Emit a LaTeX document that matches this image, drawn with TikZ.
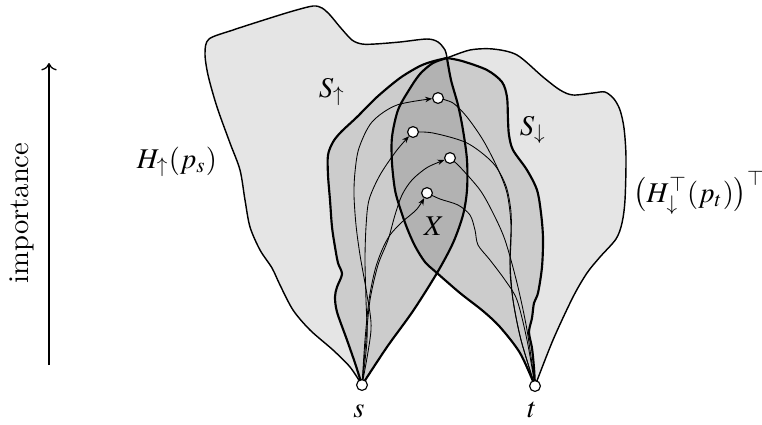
\documentclass[tikz,border=0pt]{standalone}
\usepackage{mathptmx}
\usetikzlibrary{arrows.meta}
\pgfdeclarelayer{bg}
\pgfdeclarelayer{mid}
\pgfsetlayers{bg,mid,main}
\begin{document}
\begin{tikzpicture}[x=0.35pt,y=-0.35pt,
  lightfill/.style={fill=black!10},
  midfill/.style={fill=black!20},
  darkfill/.style={fill=black!30},
  hline/.style={line width=0.5pt,line join=round},
  sline/.style={line width=0.75pt,line join=round},
  pathline/.style={line width=0.3pt},
  arr/.style={pathline,-{Stealth[length=2.4pt,width=1.9pt]},shorten >=2.1pt},
  vert/.style={circle,draw,fill=white,line width=0.4pt,inner sep=0pt,minimum size=3.8pt},
  lbl/.style={inner sep=0pt}]
\useasboundingbox (0,0) rectangle (762,424);

% vertices
\node[vert] (s) at (362,385) {};
\node[vert] (t) at (535,386) {};
\node[vert] (n1) at (438,98) {};
\node[vert] (n2) at (413,132) {};
\node[vert] (n3) at (450,158) {};
\node[vert] (n4) at (427,193) {};

\begin{pgfonlayer}{bg}
% H up (light)
\fill[lightfill] plot[smooth] coordinates {(362,385) (350,367) (333,350) (310,330) (293,310) (280,285) (272,268) (260,250) (250,227) (245,200) (240,170) (230,143) (217,107) (208,75) (205,53) (209,39) (233,30) (267,19) (293,11) (313,6) (322,8) (330,15) (340,27) (352,40) (362,44) (375,44) (400,42) (427,39) (438,42) (445,50) (447,58)}
 -- plot[smooth] coordinates {(447,58) (451,80) (458,105) (463,130) (467,160) (467,190) (463,215) (453,243) (437,273) (413,311) (387,347) (362,385)} -- cycle;
% H down (light)
\fill[lightfill] plot[smooth] coordinates {(535,386) (520,353) (500,327) (483,311) (460,293) (437,273) (425,262) (415,246) (407,228) (400,208) (395,190) (392,163) (392,137) (398,110) (409,90) (420,74) (433,63) (447,58)}
 -- plot[smooth] coordinates {(447,58) (470,50) (493,49) (517,55) (543,77) (560,90) (573,95) (593,93) (605,92) (614,99) (620,110) (624,128) (626,157) (625,200) (622,223) (616,239) (600,257) (587,273) (573,297) (553,340) (535,386)} -- cycle;
% S up (mid)
\fill[midfill] plot[smooth] coordinates {(362,385) (355,363) (347,340) (337,312) (335,297) (337,287) (342,274) (338,263) (335,247) (332,227) (330,200) (328,175) (328,155) (333,142) (341,132) (357,117) (377,97) (400,78) (420,66) (434,61) (447,58)}
 -- plot[smooth] coordinates {(447,58) (451,80) (458,105) (463,130) (467,160) (467,190) (463,215) (453,243) (437,273) (413,311) (387,347) (362,385)} -- cycle;
% S down (mid)
\fill[midfill] plot[smooth] coordinates {(535,386) (520,353) (500,327) (483,311) (460,293) (437,273) (425,262) (415,246) (407,228) (400,208) (395,190) (392,163) (392,137) (398,110) (409,90) (420,74) (433,63) (447,58)}
 -- plot[smooth] coordinates {(447,58) (462,61) (487,70) (502,82) (507,97) (508,120) (509,135) (513,150) (527,170) (537,190) (541,213) (543,238) (542,267) (538,293) (534,303) (532,318) (529,332) (532,348) (534,368) (535,386)} -- cycle;
% X (dark)
\begin{scope}
\clip plot[smooth] coordinates {(362,385) (355,363) (347,340) (337,312) (335,297) (337,287) (342,274) (338,263) (335,247) (332,227) (330,200) (328,175) (328,155) (333,142) (341,132) (357,117) (377,97) (400,78) (420,66) (434,61) (447,58)}
 -- plot[smooth] coordinates {(447,58) (451,80) (458,105) (463,130) (467,160) (467,190) (463,215) (453,243) (437,273) (413,311) (387,347) (362,385)} -- cycle;
\fill[darkfill] plot[smooth] coordinates {(535,386) (520,353) (500,327) (483,311) (460,293) (437,273) (425,262) (415,246) (407,228) (400,208) (395,190) (392,163) (392,137) (398,110) (409,90) (420,74) (433,63) (447,58)}
 -- plot[smooth] coordinates {(447,58) (462,61) (487,70) (502,82) (507,97) (508,120) (509,135) (513,150) (527,170) (537,190) (541,213) (543,238) (542,267) (538,293) (534,303) (532,318) (529,332) (532,348) (534,368) (535,386)} -- cycle;
\end{scope}
% outlines
\draw[hline] plot[smooth] coordinates {(362,385) (350,367) (333,350) (310,330) (293,310) (280,285) (272,268) (260,250) (250,227) (245,200) (240,170) (230,143) (217,107) (208,75) (205,53) (209,39) (233,30) (267,19) (293,11) (313,6) (322,8) (330,15) (340,27) (352,40) (362,44) (375,44) (400,42) (427,39) (438,42) (445,50) (447,58)};
\draw[hline] plot[smooth] coordinates {(447,58) (470,50) (493,49) (517,55) (543,77) (560,90) (573,95) (593,93) (605,92) (614,99) (620,110) (624,128) (626,157) (625,200) (622,223) (616,239) (600,257) (587,273) (573,297) (553,340) (535,386)};
\draw[sline] plot[smooth] coordinates {(362,385) (355,363) (347,340) (337,312) (335,297) (337,287) (342,274) (338,263) (335,247) (332,227) (330,200) (328,175) (328,155) (333,142) (341,132) (357,117) (377,97) (400,78) (420,66) (434,61) (447,58)};
\draw[sline] plot[smooth] coordinates {(447,58) (451,80) (458,105) (463,130) (467,160) (467,190) (463,215) (453,243) (437,273) (413,311) (387,347) (362,385)};
\draw[sline] plot[smooth] coordinates {(535,386) (520,353) (500,327) (483,311) (460,293) (437,273) (425,262) (415,246) (407,228) (400,208) (395,190) (392,163) (392,137) (398,110) (409,90) (420,74) (433,63) (447,58)};
\draw[sline] plot[smooth] coordinates {(447,58) (462,61) (487,70) (502,82) (507,97) (508,120) (509,135) (513,150) (527,170) (537,190) (541,213) (543,238) (542,267) (538,293) (534,303) (532,318) (529,332) (532,348) (534,368) (535,386)};
\end{pgfonlayer}

\begin{pgfonlayer}{mid}
% incoming paths from s
\draw[arr] plot[smooth] coordinates {(s) (371,330) (367,295) (360,255) (356,225) (354,195) (355,172) (359,148) (372,122) (397,105) (n1)};
\draw[arr] plot[smooth] coordinates {(s) (367,340) (366,300) (365,260) (366,227) (369,200) (380,175) (397,150) (n2)};
\draw[arr] plot[smooth] coordinates {(s) (366,340) (370,300) (378,265) (388,240) (395,215) (402,195) (412,180) (428,167) (n3)};
\draw[arr] plot[smooth] coordinates {(s) (365,340) (369,300) (375,270) (382,250) (390,235) (402,222) (417,209) (n4)};
% outgoing paths to t
\draw[pathline] plot[smooth] coordinates {(n1) (453,103) (467,117) (483,140) (497,167) (507,193) (511,225) (510,260) (513,300) (521,340) (t)};
\draw[pathline] plot[smooth] coordinates {(n2) (433,133) (467,143) (493,163) (506,186) (511,212) (511,240) (510,270) (513,300) (521,340) (t)};
\draw[pathline] plot[smooth] coordinates {(n3) (460,167) (480,190) (493,213) (505,240) (517,283) (527,330) (t)};
\draw[pathline] plot[smooth] coordinates {(n4) (440,199) (458,205) (470,215) (475,230) (478,245) (490,260) (505,280) (517,300) (527,340) (t)};
\end{pgfonlayer}

% importance arrow
\coordinate (ia) at (49,365);
\coordinate (ib) at (49,63);
\draw[line width=0.45pt,->] (ia) -- (ib);
\node[lbl,rotate=90] (imp) at (22,213) {importance};

% labels
\node[lbl,anchor=base] (lHu) at (177,168) {$H_{\uparrow}(p_s)$};
\node[lbl,anchor=base] (lSu) at (332,97) {$S_{\uparrow}$};
\node[lbl,anchor=base] (lSd) at (533,135) {$S_{\downarrow}$};
\node[lbl,anchor=base] (lX) at (434,235) {$X$};
\node[lbl,anchor=base] (ls) at (359,417) {$s$};
\node[lbl,anchor=base] (lt) at (532,417) {$t$};
\node[lbl,anchor=base west] (lHd) at (633,202) {$\bigl(H_{\downarrow}^{\top}(p_t)\bigr)^{\top}$};
\end{tikzpicture}
\end{document}
